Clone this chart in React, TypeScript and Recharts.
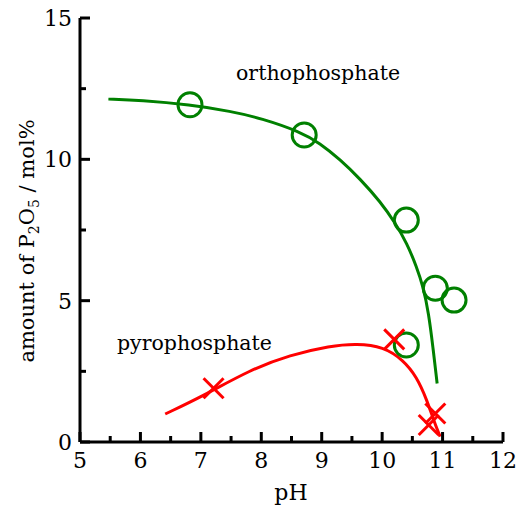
import { ComposedChart, Line, Scatter, XAxis, YAxis } from "recharts";

// measured points
const orthoPoints = [
  { x: 6.82, y: 11.93 },
  { x: 8.71, y: 10.86 },
  { x: 10.4, y: 7.85 },
  { x: 10.88, y: 5.44 },
  { x: 11.19, y: 5.02 },
  { x: 10.4, y: 3.43 },
];

const pyroPoints = [
  { x: 7.21, y: 1.9 },
  { x: 10.2, y: 3.63 },
  { x: 10.88, y: 1.01 },
  { x: 10.77, y: 0.6 },
];

// fitted curves
const orthoCurve = [
  { x: 5.47, y: 12.13 },
  { x: 6.0, y: 12.09 },
  { x: 6.82, y: 11.93 },
  { x: 7.5, y: 11.7 },
  { x: 8.0, y: 11.45 },
  { x: 8.64, y: 10.98 },
  { x: 8.97, y: 10.57 },
  { x: 9.3, y: 10.0 },
  { x: 9.64, y: 9.3 },
  { x: 9.97, y: 8.5 },
  { x: 10.22, y: 7.74 },
  { x: 10.41, y: 7.03 },
  { x: 10.57, y: 6.2 },
  { x: 10.68, y: 5.49 },
  { x: 10.77, y: 4.55 },
  { x: 10.84, y: 3.37 },
  { x: 10.91, y: 2.07 },
];

const pyroCurve = [
  { x: 6.41, y: 0.99 },
  { x: 7.04, y: 1.63 },
  { x: 7.81, y: 2.55 },
  { x: 8.48, y: 3.08 },
  { x: 9.14, y: 3.4 },
  { x: 9.58, y: 3.48 },
  { x: 10.02, y: 3.37 },
  { x: 10.35, y: 2.9 },
  { x: 10.57, y: 2.31 },
  { x: 10.74, y: 1.49 },
  { x: 10.85, y: 0.78 },
  { x: 10.96, y: 0.19 },
];

const xTicks = [5, 5.5, 6, 6.5, 7, 7.5, 8, 8.5, 9, 9.5, 10, 10.5, 11, 11.5, 12];
const yTicks = [0, 2.5, 5, 7.5, 10, 12.5, 15];

const FONT = "DejaVu Serif";
const GREEN = "#008000";
const RED = "#ff0000";

const isMajorX = (v: number) => Number.isInteger(v);
const isMajorY = (v: number) => v % 5 === 0;

const txt = (size: number) => ({ fontFamily: FONT, fontSize: size, fill: "#000" });

const BottomTick = (props: any) => {
  const { x, y, payload } = props;
  const major = isMajorX(payload.value);
  return (
    <g>
      <line x1={x} x2={x} y1={y} y2={y - (major ? 10 : 6)} stroke="#000" strokeWidth={3} />
      {major && (
        <text x={x} y={y + 26} textAnchor="middle" style={txt(22)}>
          {payload.value}
        </text>
      )}
    </g>
  );
};

const TopTick = (props: any) => {
  const { x, y, payload } = props;
  const major = isMajorX(payload.value);
  return <line x1={x} x2={x} y1={y} y2={y + (major ? 10 : 6)} stroke="#000" strokeWidth={3} />;
};

const LeftTick = (props: any) => {
  const { x, y, payload } = props;
  const major = isMajorY(payload.value);
  return (
    <g>
      <line x1={x} x2={x + (major ? 10 : 6)} y1={y} y2={y} stroke="#000" strokeWidth={3} />
      {major && (
        <text x={x - 8} y={y + 8} textAnchor="end" style={txt(22)}>
          {payload.value}
        </text>
      )}
    </g>
  );
};

const RightTick = (props: any) => {
  const { x, y, payload } = props;
  const major = isMajorY(payload.value);
  return <line x1={x} x2={x - (major ? 10 : 6)} y1={y} y2={y} stroke="#000" strokeWidth={3} />;
};

const OpenCircle = (props: any) => (
  <circle cx={props.cx} cy={props.cy} r={12} fill="none" stroke={GREEN} strokeWidth={3} />
);

const Cross = (props: any) => {
  const { cx, cy } = props;
  const s = 10;
  return (
    <g stroke={RED} strokeWidth={3}>
      <line x1={cx - s} y1={cy - s} x2={cx + s} y2={cy + s} />
      <line x1={cx - s} y1={cy + s} x2={cx + s} y2={cy - s} />
    </g>
  );
};

export default function App() {
  return (
    <div style={{ position: "absolute", left: 0, top: 0, background: "#fff" }}>
      <ComposedChart width={523} height={512} margin={{ top: 18, right: 20, bottom: 0, left: 0 }}>
        <XAxis
          dataKey="x"
          type="number"
          domain={[5, 12]}
          ticks={xTicks}
          interval={0}
          height={70}
          tickSize={0}
          tickMargin={0}
          tick={<BottomTick />}
          axisLine={{ stroke: "#000", strokeWidth: 3 }}
        />
        <XAxis
          xAxisId="top"
          orientation="top"
          type="number"
          domain={[5, 12]}
          ticks={xTicks}
          interval={0}
          height={0}
          tickSize={0}
          tickMargin={0}
          tick={<TopTick />}
          axisLine={{ stroke: "#000", strokeWidth: 3 }}
        />
        <YAxis
          dataKey="y"
          type="number"
          domain={[0, 15]}
          ticks={yTicks}
          interval={0}
          width={80}
          tickSize={0}
          tickMargin={0}
          tick={<LeftTick />}
          axisLine={{ stroke: "#000", strokeWidth: 3 }}
        />
        <YAxis
          yAxisId="right"
          orientation="right"
          type="number"
          domain={[0, 15]}
          ticks={yTicks}
          interval={0}
          width={0}
          tickSize={0}
          tickMargin={0}
          tick={<RightTick />}
          axisLine={{ stroke: "#000", strokeWidth: 3 }}
        />
        <Line
          data={orthoCurve}
          dataKey="y"
          type="basis"
          stroke={GREEN}
          strokeWidth={3}
          dot={false}
          activeDot={false}
          isAnimationActive={false}
        />
        <Line
          data={pyroCurve}
          dataKey="y"
          type="basis"
          stroke={RED}
          strokeWidth={3}
          dot={false}
          activeDot={false}
          isAnimationActive={false}
        />
        <Scatter data={orthoPoints} dataKey="y" shape={<OpenCircle />} isAnimationActive={false} />
        <Scatter data={pyroPoints} dataKey="y" shape={<Cross />} isAnimationActive={false} />
        <text x={236} y={80} style={txt(20.5)}>
          orthophosphate
        </text>
        <text x={117} y={350} style={txt(20.5)}>
          pyrophosphate
        </text>
        <text x={291} y={500} textAnchor="middle" style={txt(22)}>
          pH
        </text>
        <text x={34} y={241} transform="rotate(-90 34 241)" textAnchor="middle" style={txt(21)}>
          amount of P<tspan style={{ fontSize: 14 }} dy={5}>2</tspan>
          <tspan dy={-5}>O</tspan>
          <tspan style={{ fontSize: 14 }} dy={5}>5</tspan>
          <tspan dy={-5}> / mol%</tspan>
        </text>
      </ComposedChart>
    </div>
  );
}
